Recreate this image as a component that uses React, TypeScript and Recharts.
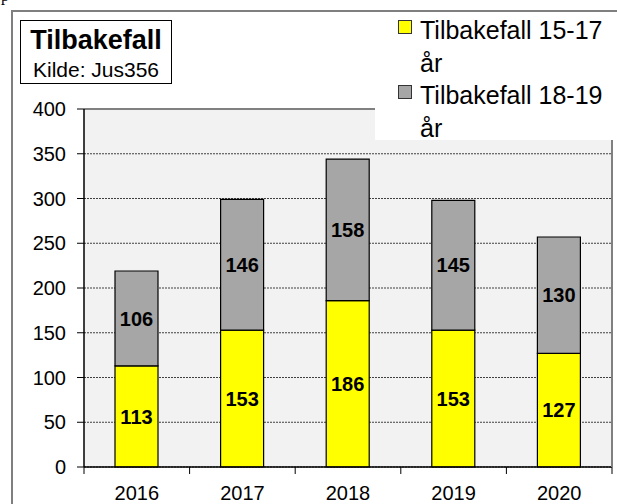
import React from 'react';
import { BarChart, Bar, XAxis, YAxis, CartesianGrid, LabelList, ReferenceLine } from 'recharts';

const years = ['2016', '2017', '2018', '2019', '2020'];
const ages1517 = [113, 153, 186, 153, 127];
const ages1819 = [106, 146, 158, 145, 130];
const seriesNames = ['Tilbakefall 15-17 år', 'Tilbakefall 18-19 år'];
const seriesColors = ['#ffff00', '#a6a6a6'];
const yTicks = [0, 50, 100, 150, 200, 250, 300, 350, 400];

const data = years.map((year, i) => ({ year, a: ages1517[i], b: ages1819[i] }));

const FONT = '"Liberation Sans", Arial, sans-serif';
const PLOT_LEFT = 84;
const PLOT_RIGHT = 612;
const BAND = (PLOT_RIGHT - PLOT_LEFT) / years.length;

function YearTick(props: any) {
  const { x, y, payload, index } = props;
  return (
    <g>
      <line x1={x - BAND / 2} y1={y} x2={x - BAND / 2} y2={y + 7} stroke="#000" />
      {index === years.length - 1 && (
        <line x1={x + BAND / 2} y1={y} x2={x + BAND / 2} y2={y + 7} stroke="#000" />
      )}
      <text x={x} y={y + 33} textAnchor="middle" fontSize={20} fontFamily={FONT} fill="#000">
        {payload.value}
      </text>
    </g>
  );
}

export default function App() {
  return (
    <div style={{ position: 'fixed', left: 0, top: 0, width: 617, height: 504, overflow: 'hidden', background: '#fff' }}>
      <div
        style={{
          position: 'absolute', left: 11, top: 10, width: 700, height: 600,
          borderLeft: '2px solid #7f7f7f', borderTop: '2px solid #7f7f7f',
        }}
      />
      <svg width={20} height={10} style={{ position: 'absolute', left: 0, top: 0 }}>
        <text x={1} y={1} fontSize={16} fontFamily='"Liberation Serif", serif'>p</text>
      </svg>
      <div style={{ position: 'absolute', left: 0, top: 0 }}>
        <BarChart
          width={617}
          height={504}
          data={data}
          margin={{ top: 109, right: 5, bottom: 7, left: 0 }}
          barSize={43}
        >
          <CartesianGrid yAxisId="left" vertical={false} fill="#f2f2f2" stroke="#404040" strokeDasharray="2 1" />
          <XAxis
            dataKey="year"
            height={30}
            tickLine={false}
            tickSize={0}
            tickMargin={0}
            axisLine={{ stroke: '#000', strokeWidth: 1.5 }}
            tick={<YearTick />}
          />
          <YAxis
            yAxisId="left"
            width={84}
            domain={[0, 400]}
            ticks={yTicks}
            interval={0}
            tickSize={7}
            tickMargin={11}
            tickLine={{ stroke: '#000' }}
            axisLine={{ stroke: '#000', strokeWidth: 1.5 }}
            tick={{ fontSize: 20, fontFamily: FONT, fill: '#000' }}
          />
          <ReferenceLine yAxisId="left" y={400} stroke="#808080" strokeWidth={2} />
          <Bar yAxisId="left" dataKey="a" name={seriesNames[0]} stackId="s" fill={seriesColors[0]} stroke="#000" strokeWidth={1.2} isAnimationActive={false}>
            <LabelList dataKey="a" position="center" fill="#000" fontSize={20} fontWeight="bold" fontFamily={FONT} />
          </Bar>
          <Bar yAxisId="left" dataKey="b" name={seriesNames[1]} stackId="s" fill={seriesColors[1]} stroke="#000" strokeWidth={1.2} isAnimationActive={false}>
            <LabelList dataKey="b" position="center" fill="#000" fontSize={20} fontWeight="bold" fontFamily={FONT} />
          </Bar>
        </BarChart>
      </div>
      {/* right edge of the plot frame */}
      <div style={{ position: 'absolute', left: 611, top: 108, width: 2, height: 359, background: '#808080' }} />
      <div
        style={{
          position: 'absolute', left: 20, top: 20, width: 150, height: 62,
          border: '1px solid #000', background: '#fff', textAlign: 'center', fontFamily: FONT,
        }}
      >
        <div style={{ fontSize: 27, fontWeight: 'bold', lineHeight: '31px', marginTop: 4 }}>Tilbakefall</div>
        <div style={{ fontSize: 21, lineHeight: '24px', marginTop: 2 }}>Kilde: Jus356</div>
      </div>
      <div
        style={{
          position: 'absolute', left: 375, top: 12, width: 250, height: 128,
          background: '#fff', fontFamily: FONT,
        }}
      >
        {seriesNames.map((name, i) => (
          <div key={name} style={{ position: 'absolute', left: 0, top: 2 + i * 65, width: 250 }}>
            <div
              style={{
                position: 'absolute', left: 23, top: 6, width: 12, height: 12,
                background: seriesColors[i], border: '1px solid #333',
              }}
            />
            <div style={{ position: 'absolute', left: 45, top: 0, width: 195, fontSize: 25, lineHeight: '32.5px' }}>
              {name}
            </div>
          </div>
        ))}
      </div>
    </div>
  );
}
